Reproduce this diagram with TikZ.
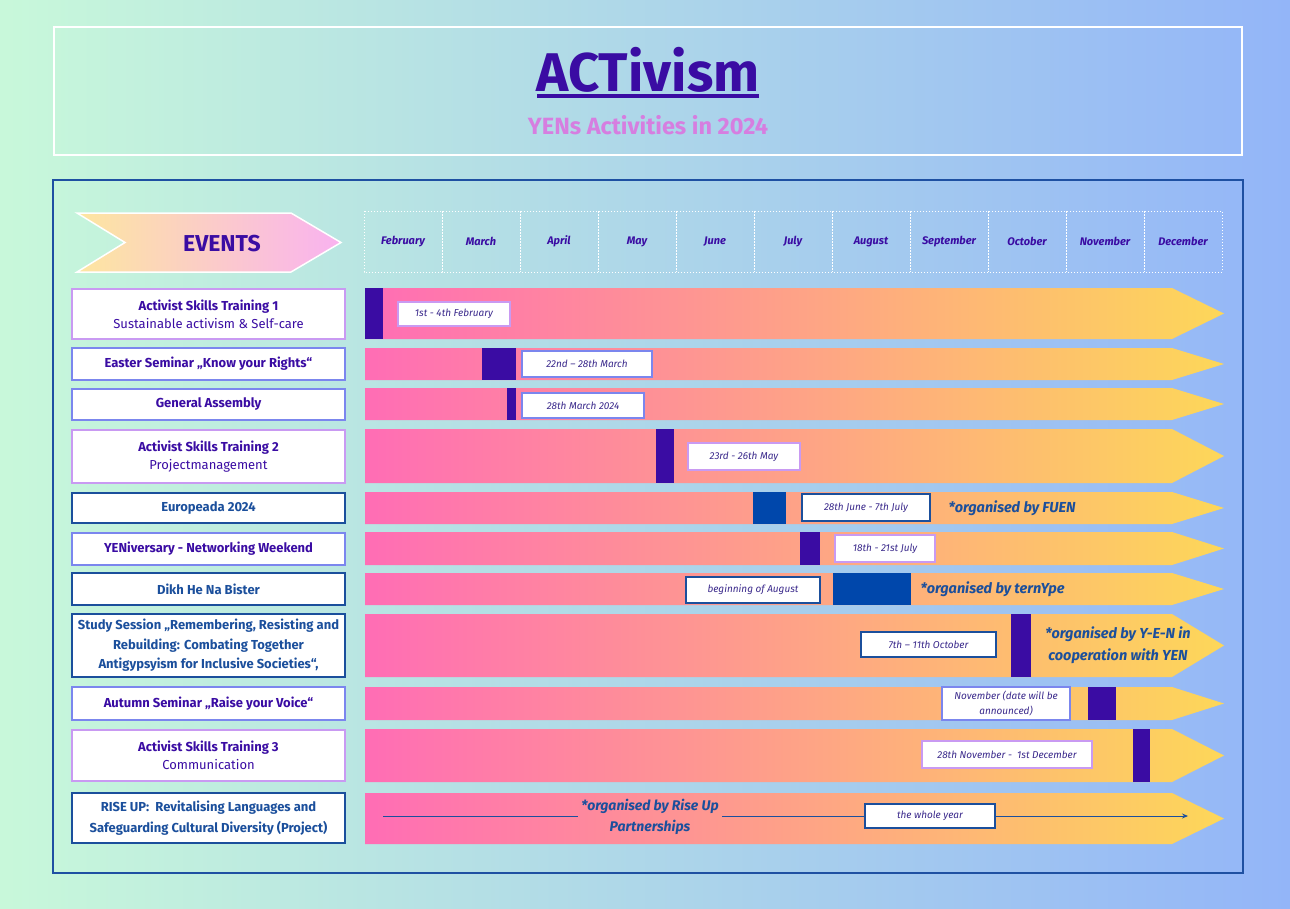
\documentclass[tikz,border=0pt]{standalone}
\usepackage{fontspec}
\setmainfont{Fira Sans}
\usetikzlibrary{arrows.meta,calc}
\definecolor{indigo}{HTML}{3A0CA3}
\definecolor{blk}{HTML}{0047AB}
\definecolor{dblue}{HTML}{1B4F9C}
\definecolor{lav}{HTML}{C99AF2}
\definecolor{peri}{HTML}{7B86EE}
\definecolor{frameb}{HTML}{1E50A2}
\definecolor{bgL}{HTML}{C8F8DA}
\definecolor{bgR}{HTML}{93B5F8}
\definecolor{barL}{HTML}{FF6DB5}
\definecolor{barR}{HTML}{FDD759}
\definecolor{evL}{HTML}{FDE6A0}
\definecolor{evR}{HTML}{F9B2F0}
\definecolor{orchid}{HTML}{D67EE0}
\definecolor{datec}{HTML}{3B2A8C}
\newcommand{\evbar}[2]{\shade[left color=barL,right color=barR] (365,#1) -- (1172,#1) -- (1224,{(#1+#2)/2}) -- (1172,#2) -- (365,#2) -- cycle;}
\begin{document}
\begin{tikzpicture}[x=1pt,y=-1pt,
  lbox/.style={draw=#1, fill=white, line width=1.5pt, minimum width=273pt, align=center, inner sep=0pt, font=\fontsize{13}{18}\selectfont},
  lboxb/.style={lbox=#1, font=\fontsize{13}{19.5}\selectfont\bfseries},
  dbox/.style={draw=#1, fill=white, line width=1.5pt, inner sep=0pt, align=center, text=datec, font=\fontsize{10}{14}\selectfont\itshape},
  month/.style={text=indigo, font=\fontsize{11}{13}\selectfont\bfseries\itshape},
  org/.style={text=dblue, align=center, font=\fontsize{14.5}{22}\selectfont\bfseries\itshape},
  blockI/.style={fill=indigo},
  blockB/.style={fill=blk}]
\useasboundingbox (0,0) rectangle (1290,908);
\shade[left color=bgL,right color=bgR] (0,0) rectangle (1290,908);
% header
\draw[white, line width=2pt] (54,27) rectangle (1242,155);
\node[anchor=base, text=indigo, font=\fontsize{54.5}{60}\selectfont\bfseries] (title) at (648,91) {ACTivism};
\draw[indigo, line width=3.5pt] ($(title.base west)+(4,5)$) -- ($(title.base east)+(-4,5)$);
\node[anchor=base, text=orchid, font=\fontsize{23.5}{26}\selectfont\bfseries] (sub) at (648,134) {YENs Activities in 2024};
% frame
\draw[frameb, line width=2pt] (53,180) rectangle (1243,873);
% events chevron
\shadedraw[left color=evL,right color=evR, draw=white, line width=1.5pt] (77,213) -- (291,213) -- (341,242.5) -- (291,272) -- (77,272) -- (125,242.5) -- cycle;
\node[text=indigo, font=\fontsize{23}{26}\selectfont\bfseries] (events) at (222,244) {EVENTS};
% months
\foreach \m [count=\i from 0] in {February,March,April,May,June,July,August,September,October,November,December}{
  \draw[white, dotted, line width=1pt] (364+78*\i,211) rectangle +(78,61);
  \node[month] (m\i) at (403+78*\i,241.5) {\m};
}
% bars
\evbar{288}{339}
\evbar{348}{380}
\evbar{388}{420}
\evbar{429}{483}
\evbar{492}{524}
\evbar{532}{565}
\evbar{573}{605}
\evbar{614}{677}
\evbar{687}{720}
\evbar{729}{782}
\evbar{793}{844}
% blocks
\fill[blockI] (365,288) rectangle (383,339);
\fill[blockI] (482,348) rectangle (516,380);
\fill[blockI] (507,388) rectangle (516,420);
\fill[blockI] (656,429) rectangle (674,483);
\fill[blockB] (753,492) rectangle (786,524);
\fill[blockI] (800,532) rectangle (820,565);
\fill[blockB] (833,573) rectangle (911,605);
\fill[blockI] (1011,614) rectangle (1031,677);
\fill[blockI] (1088,687) rectangle (1116,720);
\fill[blockI] (1133,729) rectangle (1150,782);
% left event boxes
\node[lbox=lav, minimum height=50pt, text=indigo] (e1) at (208.5,314) {\textbf{Activist Skills Training 1}\\Sustainable activism \& Self-care};
\node[lboxb=peri, minimum height=32pt, text=indigo] (e2) at (208.5,364) {Easter Seminar „Know your Rights“};
\node[lboxb=peri, minimum height=31pt, text=indigo] (e3) at (208.5,404.5) {General Assembly};
\node[lbox=lav, minimum height=53pt, text=indigo] (e4) at (208.5,456.5) {\textbf{Activist Skills Training 2}\\Projectmanagement};
\node[lboxb=dblue, minimum height=30pt, text=dblue] (e5) at (208.5,508) {Europeada 2024};
\node[lboxb=peri, minimum height=32pt, text=indigo] (e6) at (208.5,549) {YENiversary - Networking Weekend};
\node[lboxb=dblue, minimum height=32pt, text=dblue] (e7) at (208.5,589) {Dikh He Na Bister};
\node[lboxb=dblue, minimum height=63pt, text=dblue] (e8) at (208.5,645.5) {Study Session „Remembering, Resisting and\\Rebuilding: Combating Together\\Antigypsyism for Inclusive Societies“,};
\node[lboxb=peri, minimum height=33pt, text=indigo] (e9) at (208.5,703.5) {Autumn Seminar „Raise your Voice“};
\node[lbox=lav, minimum height=51pt, text=indigo] (e10) at (208.5,755.5) {\textbf{Activist Skills Training 3}\\Communication};
\node[lboxb=dblue, minimum height=50pt, text=dblue, font=\fontsize{13}{21}\selectfont\bfseries] (e11) at (208.5,818) {RISE UP:\ \ Revitalising Languages and\\Safeguarding Cultural Diversity (Project)};
% date boxes
\node[dbox=lav, minimum width=112pt, minimum height=24pt] (d1) at (454,314) {1st - 4th February};
\node[dbox=peri, minimum width=130pt, minimum height=26pt] (d2) at (587,364) {22nd – 28th March};
\node[dbox=peri, minimum width=122pt, minimum height=25pt] (d3) at (583,405.5) {28th March 2024};
\node[dbox=lav, minimum width=112pt, minimum height=27pt] (d4) at (744,456.5) {23rd - 26th May};
\node[dbox=dblue, minimum width=128pt, minimum height=27pt] (d5) at (866,507.5) {28th June - 7th July};
\node[dbox=lav, minimum width=100pt, minimum height=27pt] (d6) at (885,548.5) {18th - 21st July};
\node[dbox=dblue, minimum width=134pt, minimum height=26pt] (d7) at (753,590) {beginning of August};
\node[dbox=dblue, minimum width=135pt, minimum height=25pt] (d8) at (928.5,644.5) {7th – 11th October};
\node[dbox=peri, minimum width=128pt, minimum height=33pt, font=\fontsize{10}{15}\selectfont\itshape] (d9) at (1006,703.5) {November (date will be\\announced)};
\node[dbox=lav, minimum width=170pt, minimum height=27pt] (d10) at (1007,754.5) {28th November -\ \ 1st December};
\node[dbox=dblue, minimum width=130pt, minimum height=24pt] (d11) at (930,816) {the whole year};
% organiser notes
\node[org, anchor=west] (o5) at (945,508) {*organised by FUEN};
\node[org, anchor=west] (o7) at (917,589) {*organised by ternYpe};
\node[org] (o8) at (1118,645) {*organised by Y-E-N in\\cooperation with YEN};
\node[org, font=\fontsize{14}{21}\selectfont\bfseries\itshape] (o11) at (650,817) {*organised by Rise Up\\Partnerships};
% whole-year line
\coordinate (ls) at (383,816);
\coordinate (le) at (1188,816);
\draw[dblue, line width=1pt] (ls) -- (ls -| o11.west);
\draw[dblue, line width=1pt] (o11.east |- d11.west) -- (d11.west);
\draw[dblue, line width=1pt, -{Stealth[length=6pt,width=5pt]}] (d11.east) -- (le);
\end{tikzpicture}
\end{document}
